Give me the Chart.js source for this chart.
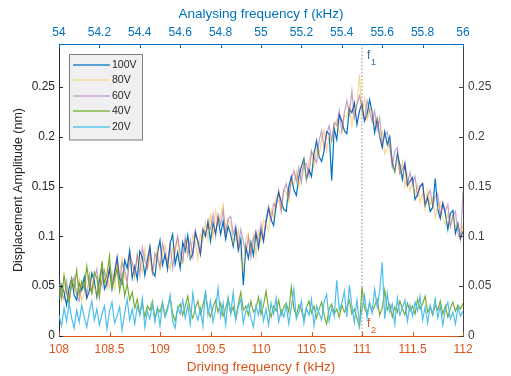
<!DOCTYPE html>
<html><head><meta charset="utf-8">
<script src="https://cdn.jsdelivr.net/npm/chart.js@4/dist/chart.umd.min.js"></script>
<style>html,body{margin:0;padding:0;background:#fff;overflow:hidden}</style>
</head><body>
<canvas id="c" width="511" height="376"></canvas>
<script>
// ---- data ----
const FREQ_START = 108, FREQ_STEP = 0.025, N_POINTS = 161;
const drivingFreq = Array.from({length: N_POINTS}, (_, i) => +(FREQ_START + i * FREQ_STEP).toFixed(3));
const seriesLabels = ['100V', '80V', '60V', '40V', '20V'];

const amp100V = [
.036,.051,.044,.031,.048,.058,.041,.036,.053,.046,
.059,.038,.045,.063,.055,.039,.056,.070,.047,.054,
.067,.047,.062,.079,.058,.052,.076,.068,.086,.058,
.070,.057,.085,.079,.061,.076,.090,.065,.060,.083,
.096,.071,.082,.067,.093,.102,.072,.084,.068,.094,
.085,.101,.077,.083,.104,.095,.082,.106,.100,.115,
.095,.113,.103,.118,.102,.115,.097,.110,.102,.090,
.107,.086,.097,.051,.090,.078,.094,.081,.103,.088,
.106,.095,.114,.128,.117,.111,.132,.144,.135,.127,
.125,.150,.160,.147,.141,.160,.170,.178,.157,.167,
.160,.183,.196,.180,.175,.186,.205,.203,.156,.208,
.197,.222,.216,.206,.203,.228,.224,.234,.212,.226,
.233,.216,.222,.237,.225,.204,.218,.200,.189,.205,
.192,.200,.174,.165,.183,.172,.157,.173,.151,.155,
.159,.137,.142,.150,.153,.131,.139,.125,.129,.158,
.127,.118,.133,.123,.107,.123,.126,.103,.113,.098,
.105];
const amp80V = [
.047,.035,.053,.043,.034,.058,.050,.041,.057,.035,
.043,.056,.063,.042,.051,.040,.061,.050,.067,.059,
.048,.064,.047,.070,.063,.078,.058,.056,.077,.073,
.058,.082,.073,.064,.087,.067,.081,.062,.076,.089,
.067,.083,.092,.075,.067,.089,.084,.098,.076,.073,
.096,.088,.078,.101,.095,.077,.102,.096,.115,.096,
.123,.099,.125,.112,.121,.132,.105,.117,.111,.093,
.097,.106,.077,.065,.097,.103,.084,.102,.081,.105,
.095,.116,.113,.106,.127,.119,.140,.136,.125,.147,
.144,.135,.156,.153,.165,.150,.163,.175,.156,.175,
.185,.170,.189,.181,.198,.206,.186,.201,.195,.212,
.217,.205,.203,.221,.220,.231,.211,.227,.233,.262,
.221,.238,.217,.228,.225,.213,.219,.201,.205,.183,
.188,.194,.172,.164,.179,.162,.175,.150,.162,.146,
.153,.142,.152,.134,.143,.127,.146,.132,.139,.119,
.130,.134,.118,.112,.123,.110,.120,.109,.112,.100,
.112];
const amp60V = [
.060,.044,.037,.055,.035,.050,.059,.042,.035,.054,
.050,.039,.060,.044,.057,.067,.043,.055,.065,.049,
.070,.052,.065,.077,.054,.073,.067,.053,.081,.074,
.062,.081,.061,.089,.076,.068,.087,.064,.083,.078,
.069,.093,.081,.073,.092,.068,.088,.100,.084,.075,
.099,.081,.096,.080,.106,.093,.083,.108,.103,.110,
.107,.122,.100,.122,.112,.126,.101,.118,.120,.102,
.111,.090,.107,.095,.083,.099,.079,.097,.105,.093,
.112,.097,.118,.130,.116,.133,.129,.146,.126,.146,
.153,.139,.156,.166,.155,.169,.154,.173,.173,.161,
.186,.179,.174,.196,.206,.188,.203,.211,.196,.214,
.211,.226,.206,.224,.236,.223,.246,.219,.232,.241,
.229,.216,.236,.226,.215,.226,.207,.219,.192,.201,
.205,.189,.170,.186,.189,.163,.167,.173,.152,.164,
.153,.160,.141,.151,.153,.132,.141,.146,.130,.140,
.143,.120,.134,.125,.132,.110,.121,.125,.103,.096,
.145];
const amp40V = [
.052,.038,.061,.044,.033,.057,.048,.066,.042,.055,
.047,.070,.051,.043,.064,.058,.039,.075,.053,.062,
.080,.049,.057,.068,.045,.061,.040,.052,.036,.044,
.028,.037,.022,.033,.019,.030,.026,.035,.017,.028,
.024,.034,.020,.029,.038,.023,.015,.027,.032,.021,
.030,.040,.025,.018,.028,.035,.022,.031,.043,.026,
.019,.029,.036,.024,.033,.020,.027,.038,.023,.029,
.017,.032,.044,.026,.030,.021,.035,.024,.028,.039,
.022,.031,.045,.027,.019,.030,.025,.036,.021,.029,
.033,.024,.049,.028,.020,.031,.026,.017,.029,.035,
.023,.030,.018,.027,.034,.021,.012,.028,.032,.022,
.027,.019,.031,.024,.029,.036,.022,.027,.018,.009,
.049,.028,.022,.033,.025,.030,.037,.021,.028,.046,
.026,.032,.019,.029,.024,.035,.027,.021,.033,.025,
.030,.022,.037,.027,.032,.040,.024,.029,.021,.031,
.026,.035,.022,.030,.019,.028,.034,.025,.031,.027,
.033];
const amp20V = [
.021,.010,.028,.015,.033,.018,.008,.026,.014,.031,
.019,.009,.024,.035,.016,.027,.011,.022,.030,.007,
.025,.034,.013,.020,.029,.006,.023,.037,.016,.027,
.012,.030,.021,.038,.009,.025,.017,.032,.014,.028,
.010,.033,.019,.026,.041,.015,.008,.029,.022,.036,
.018,.031,.012,.043,.024,.016,.028,.010,.046,.021,
.035,.014,.027,.048,.019,.033,.011,.038,.022,.044,
.016,.029,.037,.013,.025,.032,.018,.009,.030,.021,
.036,.015,.027,.011,.033,.022,.038,.014,.026,.019,
.031,.012,.029,.047,.017,.024,.035,.013,.028,.021,
.037,.010,.030,.023,.016,.034,.042,.015,.028,.020,
.056,.026,.033,.045,.019,.051,.030,.014,.036,.011,
.027,.041,.018,.034,.023,.047,.029,.045,.074,.017,
.043,.024,.032,.012,.038,.021,.028,.036,.015,.031,
.020,.034,.025,.040,.016,.029,.013,.031,.022,.037,
.018,.030,.011,.027,.034,.017,.024,.012,.029,.020,
.025];

const drivingRange = [108, 112];
const analysingRange = [54, 56];
const amplitudeMax = 0.293;
const f1Freq = 111;

// ---- styles ----
const FONT = "'Liberation Sans', Arial, Helvetica, sans-serif";
const ORANGE = '#D95319', BLUE = '#0072BD', DARK = '#262626', GRAY = '#404040';
const seriesColors = ['#0072BD', 'rgba(237,177,32,0.5)', 'rgba(126,47,142,0.45)', '#77AC30', '#4DBEEE'];
const legendColors = ['#2a86cc', '#f3d89c', '#c9a6d2', '#86b84a', '#5cc6f0'];
const seriesData = [amp100V, amp80V, amp60V, amp40V, amp20V];

const fmt = v => String(parseFloat(Number(v).toFixed(3)));

const datasets = seriesData.map((arr, k) => ({
  label: seriesLabels[k],
  data: arr.map((y, i) => ({x: drivingFreq[i], y})),
  borderColor: seriesColors[k],
  borderWidth: 1.2,
  pointRadius: 0,
  tension: 0,
  fill: false,
  order: 5 - k,
  xAxisID: 'x', yAxisID: 'y'
}));
datasets.push({
  label: '',
  data: [{x: f1Freq, y: 0}, {x: f1Freq, y: amplitudeMax}],
  borderColor: '#8c8c8c', borderWidth: 1, borderDash: [1.5, 2],
  pointRadius: 0, order: 0, xAxisID: 'x', yAxisID: 'y'
});

const inwardTicks = {
  id: 'inwardTicks',
  afterDraw(chart) {
    const ctx = chart.ctx, a = chart.chartArea, L = 4;
    ctx.save(); ctx.lineWidth = 1;
    for (const id of ['x', 'x2', 'y', 'y2']) {
      const s = chart.scales[id];
      ctx.strokeStyle = s.options.border.color;
      for (const t of s.ticks) {
        const p = Math.round(s.getPixelForValue(t.value)) + 0.5;
        ctx.beginPath();
        if (id === 'x') { ctx.moveTo(p, a.bottom); ctx.lineTo(p, a.bottom - L); }
        else if (id === 'x2') { ctx.moveTo(p, a.top); ctx.lineTo(p, a.top + L); }
        else if (id === 'y') { ctx.moveTo(a.left, p); ctx.lineTo(a.left + L, p); }
        else { ctx.moveTo(a.right, p); ctx.lineTo(a.right - L, p); }
        ctx.stroke();
      }
    }
    ctx.restore();
  }
};

const boxLegend = {
  id: 'boxLegend',
  afterDraw(chart) {
    const ctx = chart.ctx, a = chart.chartArea;
    const x0 = a.left + 10, y0 = a.top + 10, w = 74, rowH = 15.5, h = 11 + seriesLabels.length * rowH - 2;
    ctx.save();
    ctx.fillStyle = '#f0f0f0'; ctx.fillRect(x0, y0, w, h);
    ctx.strokeStyle = '#7f7f7f'; ctx.lineWidth = 1; ctx.strokeRect(x0 + 0.5, y0 + 0.5, w - 1, h - 1);
    ctx.font = '10.5px ' + FONT; ctx.textBaseline = 'middle'; ctx.textAlign = 'left';
    seriesLabels.forEach((lab, i) => {
      const y = Math.round(y0 + 10.5 + i * rowH);
      ctx.strokeStyle = legendColors[i]; ctx.lineWidth = 1.6;
      ctx.beginPath(); ctx.moveTo(x0 + 4, y); ctx.lineTo(x0 + 41, y); ctx.stroke();
      ctx.fillStyle = DARK; ctx.fillText(lab, x0 + 43, y + 0.5);
    });
    ctx.restore();
  }
};

const fLabels = {
  id: 'fLabels',
  afterDraw(chart) {
    const ctx = chart.ctx, a = chart.chartArea;
    const xp = chart.scales.x.getPixelForValue(f1Freq);
    ctx.save(); ctx.textBaseline = 'alphabetic'; ctx.textAlign = 'left';
    ctx.fillStyle = '#2f6ca6';
    ctx.font = '12px ' + FONT; ctx.fillText('f', xp + 5, a.top + 15);
    ctx.font = '9px ' + FONT; ctx.fillText('1', xp + 9, a.top + 21);
    ctx.fillStyle = ORANGE;
    ctx.font = '12px ' + FONT; ctx.fillText('f', xp + 5, a.bottom - 9);
    ctx.font = '9px ' + FONT; ctx.fillText('2', xp + 9, a.bottom - 3);
    ctx.restore();
  }
};

function axisX(pos, range, step, color, title, h, tpad, lpad) {
  return {
    type: 'linear', position: pos, min: range[0], max: range[1],
    ticks: {stepSize: step, color, font: {family: FONT, size: 12}, padding: lpad, maxRotation: 0, autoSkip: false, includeBounds: false, callback: fmt},
    grid: {drawOnChartArea: false, drawTicks: false},
    border: {color, width: 1},
    title: {display: true, text: title, color, font: {family: FONT, size: 13.5}, padding: tpad},
    afterFit: s => { s.height = h; }
  };
}
function axisY(pos, color, w, lpad, title) {
  return {
    type: 'linear', position: pos, min: 0, max: amplitudeMax,
    ticks: {stepSize: 0.05, color, font: {family: FONT, size: 12}, padding: lpad, includeBounds: false, callback: fmt},
    grid: {drawOnChartArea: false, drawTicks: false},
    border: {color, width: 1},
    title: title ? {display: true, text: title, color: DARK, font: {family: FONT, size: 12.5}, padding: {top: 11, bottom: 0}} : {display: false},
    afterFit: s => { s.width = w; }
  };
}

new Chart(document.getElementById('c'), {
  type: 'line',
  data: {datasets},
  options: {
    responsive: false, animation: false, devicePixelRatio: 1,
    layout: {padding: 0},
    plugins: {legend: {display: false}, tooltip: {enabled: false}, title: {display: false}},
    scales: {
      x: axisX('bottom', drivingRange, 0.5, ORANGE, 'Driving frequency f (kHz)', 40, {top: 0, bottom: 1}, 6),
      x2: axisX('top', analysingRange, 0.2, BLUE, 'Analysing frequency f (kHz)', 44, {top: 6, bottom: 0}, 4),
      y: axisY('left', DARK, 59, 4, 'Displacement Amplitude (nm)'),
      y2: axisY('right', GRAY, 48, 5, null)
    }
  },
  plugins: [inwardTicks, boxLegend, fLabels]
});
</script>
</body></html>
